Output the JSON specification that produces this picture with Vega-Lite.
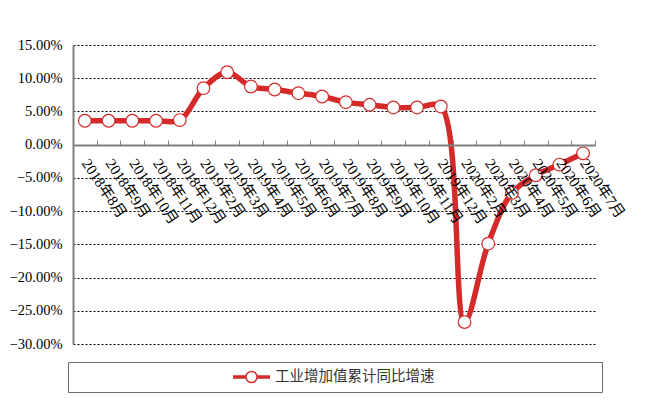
{
  "$schema": "https://vega.github.io/schema/vega-lite/v6.json",
  "width": 522,
  "height": 299,
  "autosize": {"type": "none"},
  "padding": {"left": 73, "top": 45, "right": 65, "bottom": 60},
  "background": "white",
  "config": {"view": {"stroke": null}},
  "data": {
    "values": [
      {"month": "2018年8月", "rate": 0.036, "series": "工业增加值累计同比增速"},
      {"month": "2018年9月", "rate": 0.036, "series": "工业增加值累计同比增速"},
      {"month": "2018年10月", "rate": 0.036, "series": "工业增加值累计同比增速"},
      {"month": "2018年11月", "rate": 0.036, "series": "工业增加值累计同比增速"},
      {"month": "2018年12月", "rate": 0.037, "series": "工业增加值累计同比增速"},
      {"month": "2019年2月", "rate": 0.085, "series": "工业增加值累计同比增速"},
      {"month": "2019年3月", "rate": 0.109, "series": "工业增加值累计同比增速"},
      {"month": "2019年4月", "rate": 0.0875, "series": "工业增加值累计同比增速"},
      {"month": "2019年5月", "rate": 0.083, "series": "工业增加值累计同比增速"},
      {"month": "2019年6月", "rate": 0.0775, "series": "工业增加值累计同比增速"},
      {"month": "2019年7月", "rate": 0.0725, "series": "工业增加值累计同比增速"},
      {"month": "2019年8月", "rate": 0.064, "series": "工业增加值累计同比增速"},
      {"month": "2019年9月", "rate": 0.06, "series": "工业增加值累计同比增速"},
      {"month": "2019年10月", "rate": 0.056, "series": "工业增加值累计同比增速"},
      {"month": "2019年11月", "rate": 0.056, "series": "工业增加值累计同比增速"},
      {"month": "2019年12月", "rate": 0.0575, "series": "工业增加值累计同比增速"},
      {"month": "2020年2月", "rate": -0.267, "series": "工业增加值累计同比增速"},
      {"month": "2020年3月", "rate": -0.149, "series": "工业增加值累计同比增速"},
      {"month": "2020年4月", "rate": -0.0725, "series": "工业增加值累计同比增速"},
      {"month": "2020年5月", "rate": -0.046, "series": "工业增加值累计同比增速"},
      {"month": "2020年6月", "rate": -0.03, "series": "工业增加值累计同比增速"},
      {"month": "2020年7月", "rate": -0.013, "series": "工业增加值累计同比增速"}
    ]
  },
  "encoding": {
    "x": {
      "field": "month",
      "type": "ordinal",
      "sort": null,
      "scale": {"type": "band", "paddingInner": 0, "paddingOuter": 0},
      "axis": {
        "title": null,
        "offset": -199,
        "domainColor": "#7f7f7f",
        "domainWidth": 2,
        "tickBand": "extent",
        "tickColor": "#7f7f7f",
        "tickSize": -5,
        "tickWidth": 1,
        "labelAngle": 56,
        "labelAlign": "left",
        "labelBaseline": "middle",
        "labelPadding": 20,
        "labelFont": "Liberation Serif, Noto Sans CJK SC",
        "labelFontSize": 15,
        "labelColor": "black",
        "labelOverlap": false,
        "zindex": 1
      }
    },
    "y": {
      "field": "rate",
      "type": "quantitative",
      "scale": {"domain": [-0.3, 0.15], "nice": false},
      "axis": {
        "title": null,
        "values": [-0.3, -0.25, -0.2, -0.15, -0.1, -0.05, 0, 0.05, 0.1, 0.15],
        "format": ".2%",
        "domainColor": "#7f7f7f",
        "domainWidth": 2,
        "ticks": false,
        "grid": true,
        "gridColor": "black",
        "gridDash": [2, 2],
        "gridWidth": 1,
        "labelFont": "Liberation Serif",
        "labelFontSize": 14.5,
        "labelColor": "black",
        "labelPadding": 11
      }
    }
  },
  "layer": [
    {
      "mark": {"type": "line", "strokeWidth": 5.5, "interpolate": "catmull-rom"},
      "encoding": {
        "color": {
          "field": "series",
          "type": "nominal",
          "scale": {"range": ["#d42a2a"]},
          "legend": {
            "title": null,
            "orient": "none",
            "legendX": -5,
            "legendY": 317,
            "padding": 7,
            "strokeColor": "#6b6b6b",
            "symbolType": "M-1,-0.06H-0.3M-1,0H-0.3M-1,0.06H-0.3M0.3,-0.06H1M0.3,0H1M0.3,0.06H1M0.3,0A0.3,0.3 0 1,1 -0.3,0A0.3,0.3 0 1,1 0.3,0Z",
            "symbolSize": 1369,
            "symbolStrokeWidth": 1.5,
            "symbolStrokeColor": "#d42a2a",
            "symbolFillColor": "white",
            "symbolOffset": 157,
            "labelOffset": 4,
            "clipHeight": 16,
            "labelFont": "Noto Sans CJK SC",
            "labelFontSize": 14.5,
            "labelColor": "#333333",
            "encode": {
              "symbols": {"update": {"fill": {"value": "white"}, "stroke": {"value": "#d42a2a"}}},
              "entries": {"update": {"width": {"value": 520}, "fill": {"value": "transparent"}}}
            }
          }
        }
      }
    },
    {
      "mark": {"type": "point", "filled": true, "fill": "white", "stroke": "#d42a2a", "strokeWidth": 1.2, "size": 160, "opacity": 1}
    }
  ]
}
